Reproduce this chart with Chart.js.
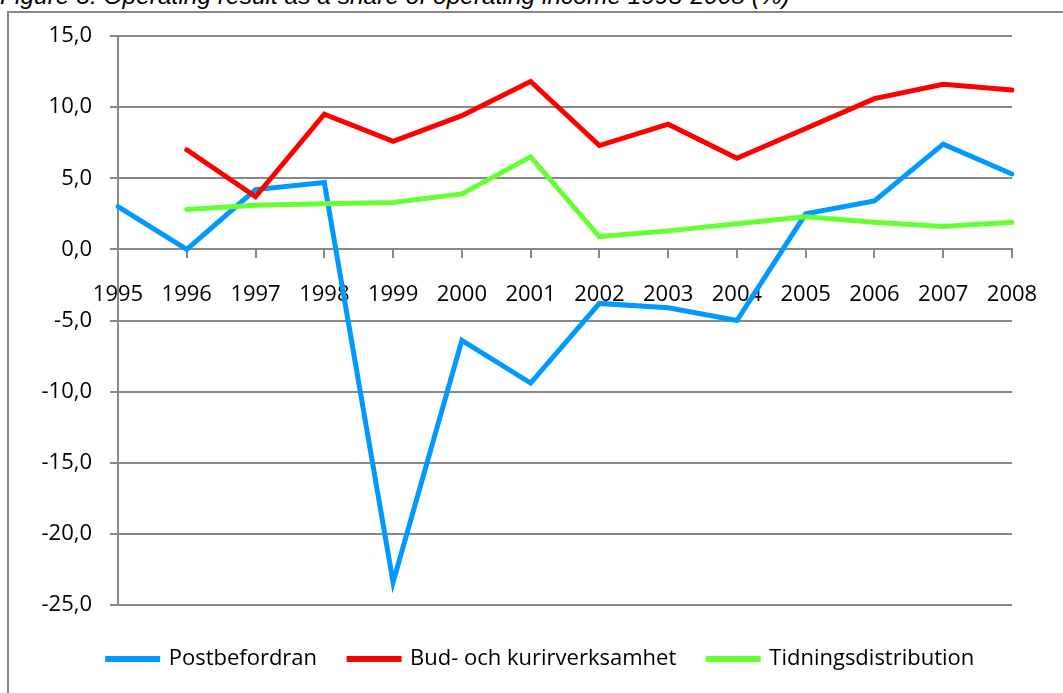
<!DOCTYPE html>
<html>
<head>
<meta charset="utf-8">
<script src="https://cdn.jsdelivr.net/npm/chart.js@4.4.1/dist/chart.umd.min.js"></script>
<style>
  html, body { margin: 0; padding: 0; background: #fff; }
  body { width: 1063px; height: 693px; overflow: hidden; position: relative; }
  #title {
    position: absolute; left: 0; top: -16px;
    font: italic 24.5px "Liberation Sans", Arial, sans-serif;
    line-height: 24px; white-space: nowrap; color: #000;
  }
  #frame {
    position: absolute; left: 7px; top: 11px;
    width: 1200px; height: 900px;
    border-left: 2px solid #888; border-top: 2px solid #888;
  }
  #wrap { position: absolute; left: 0; top: 0; width: 1063px; height: 693px; }
</style>
</head>
<body>
<div id="title">Figure 3: Operating result as a share of operating income 1995-2008 (%)</div>
<div id="frame"></div>
<div id="wrap"><canvas id="chart" width="1063" height="693"></canvas></div>
<script>
// chart data
const years = ['1995','1996','1997','1998','1999','2000','2001','2002','2003','2004','2005','2006','2007','2008'];
const postbefordran = [3.0, 0.0, 4.2, 4.7, -23.4, -6.4, -9.4, -3.8, -4.1, -5.0, 2.5, 3.4, 7.4, 5.3];
const budKurir = [null, 7.0, 3.7, 9.5, 7.6, 9.4, 11.8, 7.3, 8.8, 6.4, 8.5, 10.6, 11.6, 11.2];
const tidning = [null, 2.8, 3.1, 3.2, 3.3, 3.9, 6.5, 0.9, 1.3, 1.8, 2.3, 1.9, 1.6, 1.9];
const yMin = -25, yMax = 15, yStep = 5;

const gridColor = '#888';
const font = { family: '"Open Sans", sans-serif', size: 22 };

function line(label, data, color, order) {
    return {
        label: label,
        data: data,
        borderColor: color,
        backgroundColor: color,
        borderWidth: 5,
        pointRadius: 0,
        tension: 0,
        borderCapStyle: 'round',
        order: order
    };
}

// move the legend right and down, like the original
const legendShift = {
    id: 'legendShift',
    afterLayout(chart) {
        const lg = chart.legend;
        if (!lg) return;
        lg.left += 70;
        lg.top += 11;
        lg.bottom += 11;
    }
};

new Chart(document.getElementById('chart'), {
    type: 'line',
    data: {
        labels: years,
        datasets: [
            line('Postbefordran', postbefordran, '#0099ff', 3),
            line('Bud- och kurirverksamhet', budKurir, '#ff0000', 2),
            line('Tidningsdistribution', tidning, '#66ff33', 1)
        ]
    },
    plugins: [legendShift],
    options: {
        responsive: false,
        animation: false,
        layout: { padding: { top: 36, right: 51, left: 0, bottom: 24 } },
        plugins: {
            tooltip: { enabled: false },
            legend: {
                position: 'bottom',
                labels: {
                    font: font,
                    color: '#000',
                    boxWidth: 50,
                    boxHeight: 1,
                    padding: 32,
                    sort: (a, b) => a.datasetIndex - b.datasetIndex
                }
            }
        },
        scales: {
            x: {
                position: { y: 0 },
                offset: false,
                grid: {
                    offset: false,
                    drawOnChartArea: false,
                    drawTicks: true,
                    tickLength: 8,
                    color: gridColor,
                    lineWidth: 2
                },
                border: { display: true, color: gridColor, width: 2 },
                ticks: { font: font, color: '#000', padding: 24, maxRotation: 0, autoSkip: false },
                afterFit: (s) => { s.height = 0; }
            },
            y: {
                min: yMin,
                max: yMax,
                grid: { color: gridColor, lineWidth: 2, tickLength: 8 },
                border: { display: true, color: gridColor, width: 2 },
                ticks: {
                    stepSize: yStep,
                    font: font,
                    color: '#000',
                    padding: 18,
                    callback: (v) => v.toFixed(1).replace('.', ',')
                },
                afterFit: (s) => { s.width = 118; }
            }
        }
    }
});
</script>
</body>
</html>
